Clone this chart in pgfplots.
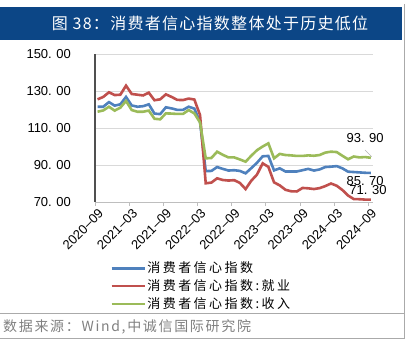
\documentclass[border=0pt]{standalone}
\usepackage{pgfplots}
\pgfplotsset{compat=1.18}
\usepackage{pgfplotstable}
\usepackage{fontspec}
\setmainfont{Liberation Sans}
\newfontfamily\cjkT[LetterSpace=8]{Noto Sans CJK SC}
\newfontfamily\cjkL[LetterSpace=19]{Noto Sans CJK SC}
\newfontfamily\cjkS[LetterSpace=12]{Noto Sans CJK SC}
\definecolor{cblue}{RGB}{79,129,189}
\definecolor{cred}{RGB}{192,80,77}
\definecolor{cgreen}{RGB}{155,187,89}
\definecolor{titlebg}{RGB}{12,70,134}
\definecolor{framegray}{RGB}{170,170,170}
\definecolor{srcgray}{RGB}{128,128,128}
\definecolor{gridgray}{RGB}{217,217,217}
\definecolor{axgray}{RGB}{190,190,190}
\definecolor{ydark}{RGB}{80,80,80}

\pgfplotstableread{
m cci emp inc
0 121.5 125.5 118.8
1 121.5 126.8 119.5
2 124.0 129.3 121.5
3 122.1 127.8 119.4
4 122.8 128.0 121.0
5 126.8 132.9 124.6
6 122.2 128.4 119.7
7 121.5 128.0 118.8
8 121.8 127.6 118.8
9 122.8 129.1 119.4
10 117.8 125.0 115.0
11 117.5 125.5 114.7
12 121.2 128.2 117.9
13 120.6 126.8 117.8
14 119.8 125.2 117.6
15 119.8 125.1 117.6
16 121.5 125.9 119.7
17 120.5 125.4 117.9
18 113.2 117.0 113.0
19 86.7 80.1 93.6
20 86.8 80.5 93.8
21 88.9 82.8 97.2
22 87.9 81.9 95.5
23 87.0 81.6 94.1
24 87.2 81.8 94.1
25 86.8 80.3 93.0
26 85.5 77.0 91.8
27 88.3 81.5 95.0
28 91.2 84.8 98.0
29 94.7 90.9 100.0
30 94.9 89.0 101.7
31 87.1 80.6 93.6
32 88.2 79.0 96.0
33 86.5 76.6 95.4
34 86.5 75.8 95.2
35 86.5 75.7 94.9
36 87.2 77.6 94.9
37 87.9 77.4 95.2
38 87.0 77.0 95.0
39 87.6 77.5 95.4
40 88.9 78.6 96.7
41 89.1 80.0 97.2
42 89.4 78.8 97.0
43 88.2 76.5 95.0
44 86.4 73.5 93.1
45 86.2 71.6 94.6
46 86.0 71.5 94.1
47 85.8 71.3 94.3
48 85.7 71.3 93.9
}\datatable

\newcommand{\tickfont}{\fontsize{13bp}{15bp}\selectfont}

\begin{document}
\begin{tikzpicture}
\useasboundingbox (0bp,0bp) rectangle (406bp,-344bp);
\fill[titlebg] (0bp,-6.5bp) rectangle (401.5bp,-40bp);
\node[text=white, font=\cjkT\fontsize{16bp}{18bp}\selectfont, inner sep=0pt] at (210bp,-23.5bp) {图 38：消费者信心指数整体处于历史低位};
\draw[framegray, line width=0.8bp] (404bp,-4bp) -- (404bp,-338.5bp);
\draw[framegray, line width=0.8bp] (0bp,-313.5bp) -- (404bp,-313.5bp);
\draw[framegray, line width=0.8bp] (0bp,-338.5bp) -- (404bp,-338.5bp);
\node[anchor=west, text=srcgray, font=\cjkS\fontsize{14bp}{16bp}\selectfont, inner sep=0pt] at (3bp,-326.5bp) {数据来源：Wind,中诚信国际研究院};
\begin{axis}[
  at={(95bp,-202bp)}, anchor=south west, scale only axis,
  width=278bp, height=148bp,
  xmin=-0.45, xmax=48.38, ymin=70, ymax=150,
  xtick={-0.45,5.55,11.55,17.55,23.55,29.55,35.55,41.55,47.55},
  xticklabels={2020--09,2021--03,2021--09,2022--03,2022--09,2023--03,2023--09,2024--03,2024--09},
  ytick={70,90,110,130,150},
  yticklabels={70.\hspace{4.5bp}00,90.\hspace{4.5bp}00,110.\hspace{4.5bp}00,130.\hspace{4.5bp}00,150.\hspace{4.5bp}00},
  axis x line*=bottom, axis y line*=left,
  x axis line style={-, draw=axgray, line width=0.8bp},
  y axis line style={-, draw=ydark, line width=1.2bp},
  ymajorgrids, grid style={draw=gridgray, line width=0.8bp},
  tick align=outside, major tick length=4bp,
  xtick style={draw=axgray, line width=0.8bp},
  ytick style={draw=none},
  xticklabel style={rotate=45, anchor=east, font=\tickfont, inner sep=1bp, yshift=-8bp, xshift=1.5bp},
  yticklabel style={font=\tickfont, anchor=east, inner sep=0pt, xshift=-20bp},
  clip=false,
  legend style={at={(axis description cs:0.054,-0.394)}, anchor=north west, draw=none, fill=none,
    font=\cjkL\fontsize{13bp}{15bp}\selectfont, row sep=2.5bp, inner sep=0pt, nodes={inner sep=1.5bp}},
  legend cell align=left,
  legend image code/.code={\draw[#1, line width=2.6bp] (0bp,0bp) -- (33bp,0bp);},
]
\addplot[cblue, line width=2.6bp, mark=none] table[x=m, y=cci] {\datatable};
\addlegendentry{消费者信心指数}
\addplot[cred, line width=2.6bp, mark=none] table[x=m, y=emp] {\datatable};
\addlegendentry{消费者信心指数:就业}
\addplot[cgreen, line width=2.6bp, mark=none] table[x=m, y=inc] {\datatable};
\addlegendentry{消费者信心指数:收入}
\draw[gray!60, line width=0.5bp] (axis cs:46.97,98.1) -- (axis cs:48.15,94.5);
\node[font=\tickfont, inner sep=0pt] at (axis cs:47.0,104.6) {93.\hspace{4.5bp}90};
\node[font=\tickfont, inner sep=0pt] at (axis cs:47.0,81.5) {85.\hspace{4.5bp}70};
\node[font=\tickfont, inner sep=0pt] at (axis cs:47.5,76.5) {71.\hspace{4.5bp}30};
\end{axis}
\end{tikzpicture}
\end{document}
